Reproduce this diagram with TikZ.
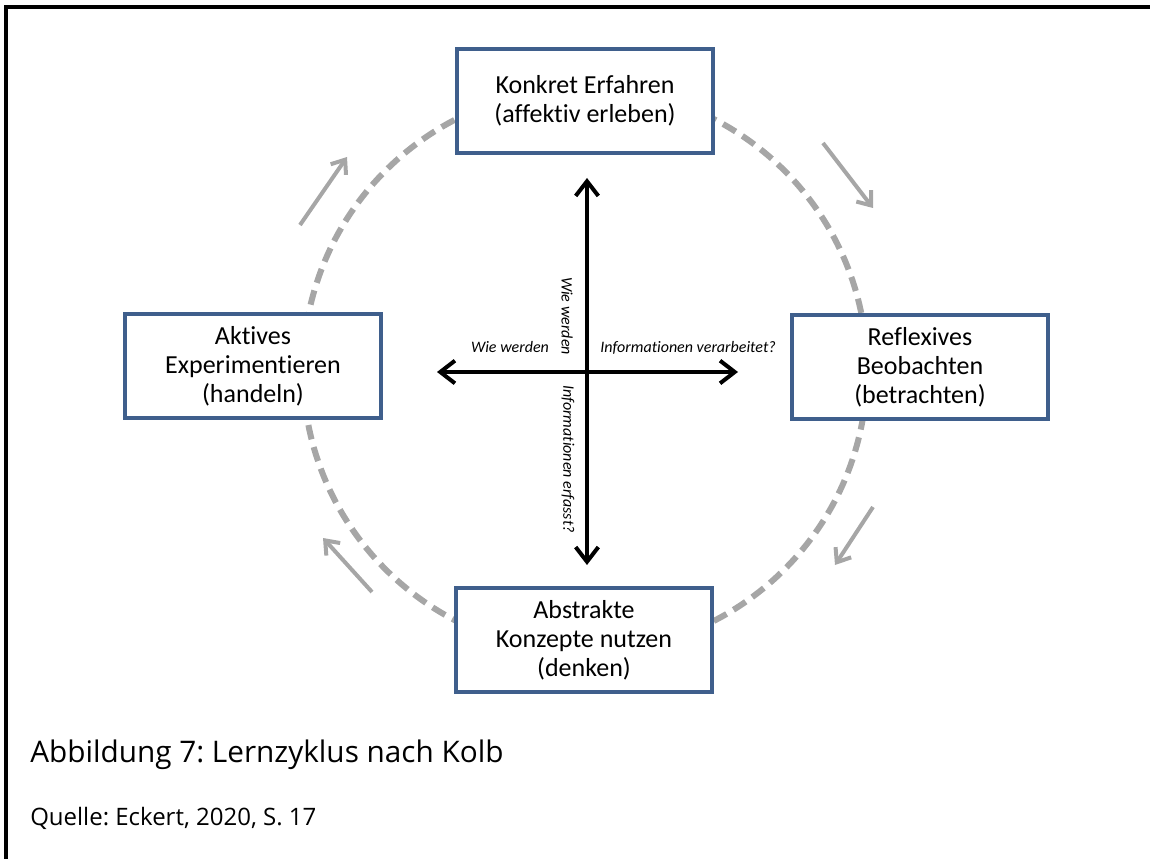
\documentclass[tikz,border=0pt]{standalone}
\usepackage{fontspec}
\setmainfont{Carlito}[Ligatures=NoCommon]
\newfontfamily\capfont{Open Sans}
\usetikzlibrary{arrows.meta}
\definecolor{boxblue}{HTML}{3F5F8C}
\definecolor{cyclegray}{HTML}{A6A6A6}
\tikzset{
  stagebox/.style={draw=boxblue, line width=3pt, fill=white, align=center,
    minimum width=192pt, minimum height=78pt, inner sep=2pt,
    font=\fontsize{19.5}{21.75}\selectfont},
  axis/.style={line width=3pt, black, -{Straight Barb[length=11pt,width=17pt]}},
  flow/.style={line width=3pt, cyclegray, -{Straight Barb[length=9pt,width=14pt]}},
  axislabel/.style={font=\fontsize{12}{14}\selectfont\itshape, inner sep=0pt},
}
\begin{document}
\frenchspacing
\begin{tikzpicture}[x=0.75pt, y=-0.75pt]
\useasboundingbox (0,0) rectangle (1150,859);
% frame
\draw[line width=3pt, black] (6,862) -- (6,7) -- (1153,7);
% dashed cycle
\draw[cyclegray, line width=4.5pt, dash pattern=on 11pt off 6pt] (585,370) circle [radius=282];
% stage boxes
\node[stagebox] (top) at (585,101) {Konkret Erfahren\\(affektiv erleben)};
\node[stagebox] (left) at (253,366) {Aktives\\Experimentieren\\(handeln)};
\node[stagebox] (right) at (920,367) {Reflexives\\Beobachten\\(betrachten)};
\node[stagebox] (bottom) at (584,640) {Abstrakte\\Konzepte nutzen\\(denken)};
% cycle direction arrows
\coordinate (f1s) at (300,225); \coordinate (f1e) at (347,157);
\coordinate (f2s) at (823,143); \coordinate (f2e) at (873,208);
\coordinate (f3s) at (873,507); \coordinate (f3e) at (835,565);
\coordinate (f4s) at (372,592); \coordinate (f4e) at (323,538);
\draw[flow] (f1s) -- (f1e);
\draw[flow] (f2s) -- (f2e);
\draw[flow] (f3s) -- (f3e);
\draw[flow] (f4s) -- (f4e);
% axes
\coordinate (c) at (587,372);
\coordinate (an) at (587,178);
\coordinate (as) at (587,565);
\coordinate (aw) at (437,372);
\coordinate (ae) at (738,372);
\draw[axis] (c) -- (an);
\draw[axis] (c) -- (as);
\draw[axis] (c) -- (aw);
\draw[axis] (c) -- (ae);
% axis labels
\node[axislabel, anchor=base] (lw) at (510,353) {Wie werden};
\node[axislabel, anchor=base west] (le) at (600,353) {Informationen verarbeitet?};
\node[axislabel, rotate=-90] (lv1) at (567,316) {Wie werden};
\node[axislabel, rotate=-90] (lv2) at (568,459) {Informationen erfasst?};
% caption
\node[anchor=base west, inner sep=0pt, font=\capfont\fontsize{22.3}{26}\selectfont] (cap) at (30,762) {Abbildung 7: Lernzyklus nach Kolb};
\node[anchor=base west, inner sep=0pt, font=\capfont\fontsize{18}{21}\selectfont] (src) at (30,825) {Quelle: Eckert, 2020, S. 17};
\end{tikzpicture}
\end{document}
